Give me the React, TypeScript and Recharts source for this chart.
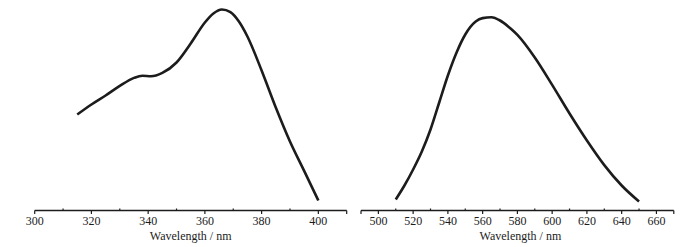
import React from 'react';
import { LineChart, Line, XAxis, YAxis } from 'recharts';

const excitationWavelengths = [315, 320, 325, 330, 335, 338, 341, 345, 350, 355, 360, 363, 366, 369, 372, 375, 380, 385, 390, 395, 400];
const excitationIntensity = [48, 53, 57.5, 62.3, 66.3, 67.4, 67.1, 68.8, 74, 83.5, 94, 98.5, 100.5, 99.2, 94.5, 87, 70, 51.5, 34.5, 19.8, 5];

const emissionWavelengths = [510, 515, 520, 525, 530, 535, 540, 545, 550, 556, 560, 565, 570, 575, 580, 590, 600, 610, 620, 630, 640, 650];
const emissionIntensity = [5.5, 12.5, 20.5, 29.5, 40.5, 54, 67.5, 79, 88, 94.5, 96.2, 96.6, 95, 91.8, 87.8, 76.5, 62.8, 48.5, 35, 22.7, 12.5, 4.5];

const leftTicks = [300, 310, 320, 330, 340, 350, 360, 370, 380, 390, 400, 410];
const rightTicks = [490, 500, 510, 520, 530, 540, 550, 560, 570, 580, 590, 600, 610, 620, 630, 640, 650, 660, 670];

const axisTitle = 'Wavelength / nm';

const excitationData = excitationWavelengths.map((w, i) => ({ w, v: excitationIntensity[i] }));
const emissionData = emissionWavelengths.map((w, i) => ({ w, v: emissionIntensity[i] }));

const FONT = '"Liberation Serif", "Times New Roman", serif';
const INK = '#1c1c1c';

function makeTick(domain: [number, number]) {
  return (props: any) => {
    const { x, y, payload } = props;
    const v = payload.value as number;
    const isEnd = v === domain[0] || v === domain[1];
    const isMajor = v % 20 === 0;
    if (isMajor || isEnd) {
      const showLabel = isMajor && (!isEnd || v === 300);
      return (
        <g>
          <line x1={x} x2={x} y1={y} y2={y + 3.5} stroke={INK} strokeWidth={1.2} />
          {showLabel ? (
            <text x={x} y={y + 14.5} textAnchor="middle" fontFamily={FONT} fontSize={12} fill={INK}>{v}</text>
          ) : null}
        </g>
      );
    }
    return <line x1={x} x2={x} y1={y} y2={y - 2} stroke={INK} strokeWidth={1.2} />;
  };
}

export default function App() {
  return (
    <div style={{ position: 'absolute', left: 0, top: 0, width: 695, height: 247, background: '#fff' }}>
      <div style={{ position: 'absolute', left: 0, top: 0 }}>
        <LineChart width={355} height={247} data={excitationData} margin={{ top: 0.5, right: 8.3, bottom: 0, left: 34.7 }}>
          <XAxis
            dataKey="w"
            type="number"
            domain={[300, 410]}
            ticks={leftTicks}
            interval={0}
            height={36.5}
            tickSize={0}
            tickMargin={0}
            tickLine={false}
            axisLine={{ stroke: INK, strokeWidth: 1.3 }}
            tick={makeTick([300, 410])}
            label={{ value: axisTitle, position: 'insideBottom', offset: 7, fontFamily: FONT, fontSize: 12, fill: INK }}
          />
          <YAxis hide domain={[0, 105]} type="number" />
          <Line type="monotone" dataKey="v" stroke={INK} strokeWidth={2.6} dot={false} isAnimationActive={false} />
        </LineChart>
      </div>
      <div style={{ position: 'absolute', left: 355, top: 0 }}>
        <LineChart width={340} height={247} data={emissionData} margin={{ top: 0.5, right: 21.2, bottom: 0, left: 6 }}>
          <XAxis
            dataKey="w"
            type="number"
            domain={[490, 670]}
            ticks={rightTicks}
            interval={0}
            height={36.5}
            tickSize={0}
            tickMargin={0}
            tickLine={false}
            axisLine={{ stroke: INK, strokeWidth: 1.3 }}
            tick={makeTick([490, 670])}
            label={{ value: axisTitle, position: 'insideBottom', offset: 7, dx: 3, fontFamily: FONT, fontSize: 12, fill: INK }}
          />
          <YAxis hide domain={[0, 105]} type="number" />
          <Line type="monotone" dataKey="v" stroke={INK} strokeWidth={2.6} dot={false} isAnimationActive={false} />
        </LineChart>
      </div>
    </div>
  );
}
